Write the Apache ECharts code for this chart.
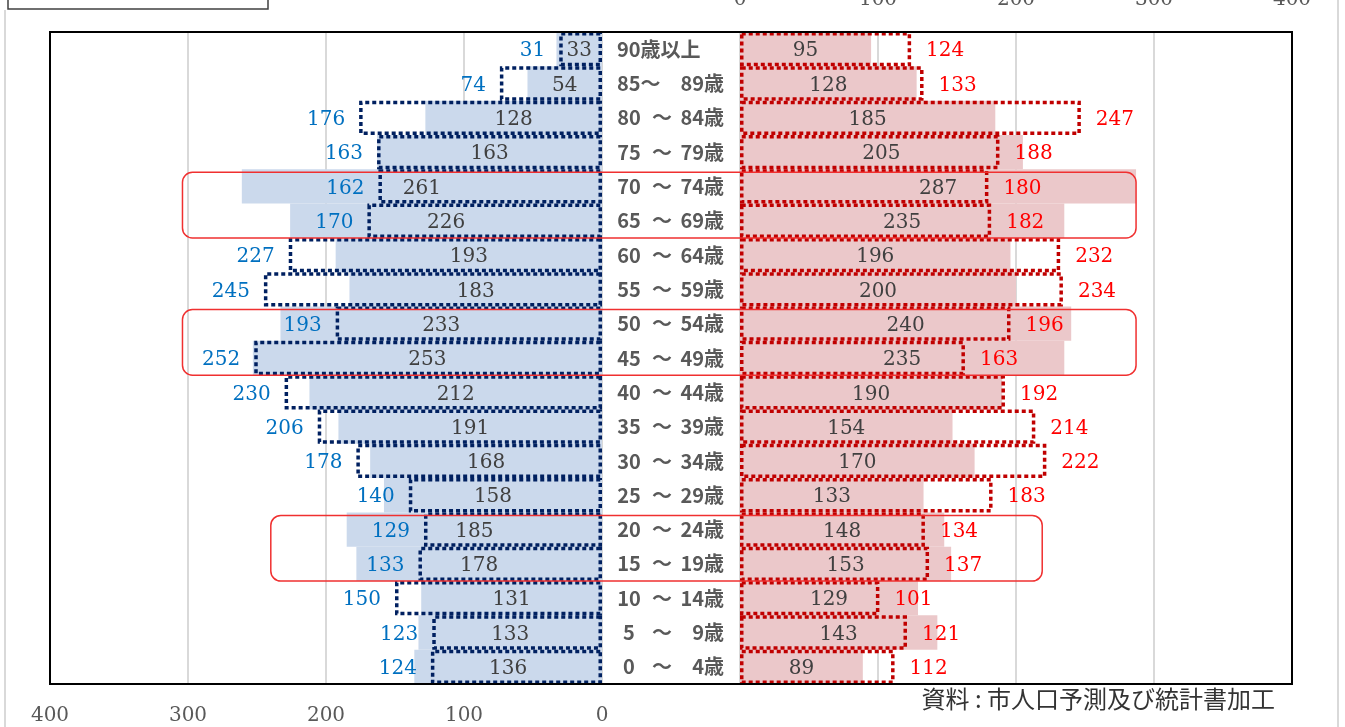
<!DOCTYPE html>
<html><head><meta charset="utf-8">
<script src="https://cdn.jsdelivr.net/npm/echarts@6/dist/echarts.min.js"></script>
<style>html,body{margin:0;padding:0;background:#fff;}#c{width:1345px;height:727px;}</style>
</head><body><div id="c"></div>
<script>
const categories = ['90歳以上','85～ 89歳','80 ～ 84歳','75 ～ 79歳','70 ～ 74歳','65 ～ 69歳','60 ～ 64歳','55 ～ 59歳','50 ～ 54歳','45 ～ 49歳','40 ～ 44歳','35 ～ 39歳','30 ～ 34歳','25 ～ 29歳','20 ～ 24歳','15 ～ 19歳','10 ～ 14歳','5 ～ 9歳','0 ～ 4歳'];
const maleFilled   = [33,54,128,163,261,226,193,183,233,253,212,191,168,158,185,178,131,133,136];
const maleDotted   = [31,74,176,163,162,170,227,245,193,252,230,206,178,140,129,133,150,123,124];
const femaleFilled = [95,128,185,205,287,235,196,200,240,235,190,154,170,133,148,153,129,143,89];
const femaleDotted = [124,133,247,188,180,182,232,234,196,163,192,214,222,183,134,137,101,121,112];
const axisTicks = [0,100,200,300,400];
// highlighted row pairs: [firstRow, lastRow, leftExtentValue, rightExtentValue]
const highlights = [[4,5,304,287],[8,9,304,287],[14,15,240,219]];

const chart = echarts.init(document.getElementById('c'));
const numFont = 'DejaVu Serif';
const gridTop = 32, gridBottom = 43;
const valAxis = (gi, pos, inverse) => ({
  type:'value', gridIndex:gi, min:axisTicks[0], max:axisTicks[axisTicks.length-1], interval:axisTicks[1]-axisTicks[0], position:pos, inverse:inverse,
  axisLine:{show:false}, axisTick:{show:false},
  axisLabel:{fontFamily:numFont, fontSize:20, color:'#595959', margin:22},
  splitLine:{show:true, lineStyle:{color:'#D9D9D9', width:2}}
});
const catFont = {fontFamily:'Noto Sans CJK JP', fontWeight:'bold', fontSize:20, color:'#595959'};
const catAxis = (gi, pos, showLabel) => ({
  type:'category', gridIndex:gi, data:categories, inverse:true, position:pos,
  axisLine:{show:false}, axisTick:{show:false}, splitLine:{show:false},
  axisLabel:Object.assign({show:showLabel, margin:123, align:'left',
    formatter: v => {
      const i = v.indexOf('～');
      if (i < 0) return '{p|' + v + '}';
      const lo = v.slice(0, i).trim(), hi = v.slice(i + 1).trim();
      if (v[i - 1] !== ' ') return '{c|' + lo + '～}{b|' + hi + '}';
      return '{a|' + lo + '}{t|～}{b|' + hi + '}';
    },
    rich:{
      p:Object.assign({}, catFont),
      a:Object.assign({width:24, align:'right'}, catFont),
      t:Object.assign({width:42, align:'center'}, catFont),
      c:Object.assign({width:66, align:'left'}, catFont),
      b:Object.assign({width:41, align:'right'}, catFont)
    }}, catFont)
});
const filledLabel = {show:true, position:'inside', offset:[0,2], fontFamily:numFont, fontSize:20, color:'#404040'};
chart.setOption({
  animation:false,
  grid:[
    {left:50, width:552, top:gridTop, bottom:gridBottom, outerBoundsMode:'none', containLabel:false},
    {left:740, width:552, top:gridTop, bottom:gridBottom, outerBoundsMode:'none', containLabel:false}
  ],
  xAxis:[valAxis(0,'bottom',true), valAxis(1,'top',false)],
  yAxis:[catAxis(0,'right',false), catAxis(1,'left',true)],
  series:[
    {type:'bar', xAxisIndex:0, yAxisIndex:0, data:maleFilled, barCategoryGap:0, barGap:'-100%', z:2,
     itemStyle:{color:'#CBD9EC'}, label:filledLabel},
    {type:'bar', xAxisIndex:0, yAxisIndex:0, data:maleDotted, barCategoryGap:0, barGap:'-100%', z:3,
     itemStyle:{color:'rgba(0,0,0,0)', borderColor:'#002060', borderWidth:3.5, borderType:[4,3]},
     label:{show:true, position:'left', distance:14, offset:[0,2], fontFamily:numFont, fontSize:20, color:'#0070C0'}},
    {type:'bar', xAxisIndex:1, yAxisIndex:1, data:femaleFilled, barCategoryGap:0, barGap:'-100%', z:2,
     itemStyle:{color:'#EBC8CA'}, label:filledLabel},
    {type:'bar', xAxisIndex:1, yAxisIndex:1, data:femaleDotted, barCategoryGap:0, barGap:'-100%', z:3,
     itemStyle:{color:'rgba(0,0,0,0)', borderColor:'#C00000', borderWidth:3.5, borderType:[4,3]},
     label:{show:true, position:'right', distance:15, offset:[0,2], fontFamily:numFont, fontSize:20, color:'#FF0000'}}
  ]
});

const bandH = (727 - gridTop - gridBottom) / categories.length;
const gfx = [
  {type:'rect', shape:{x:50, y:gridTop, width:1242, height:727-gridTop-gridBottom}, style:{fill:'none', stroke:'#000', lineWidth:2}, z:10},
  {type:'rect', shape:{x:8, y:-10, width:260, height:19}, style:{fill:'#fff', stroke:'#404040', lineWidth:1.5}, z:10},
  {type:'line', shape:{x1:5, y1:10, x2:5, y2:727}, style:{stroke:'#D9D9D9', lineWidth:2}, z:1},
  {type:'line', shape:{x1:1338, y1:0, x2:1338, y2:727}, style:{stroke:'#D9D9D9', lineWidth:2}, z:1},
  {type:'text', right:70, top:687, style:{text:'資料 : 市人口予測及び統計書加工', fontFamily:'Noto Sans CJK JP', fontSize:24, fill:'#333'}, z:10}
];
highlights.forEach(h => {
  const pL = chart.convertToPixel({xAxisIndex:0, yAxisIndex:0}, [h[2], h[0]]);
  const pR = chart.convertToPixel({xAxisIndex:1, yAxisIndex:1}, [h[3], h[1]]);
  const y0 = pL[1] - bandH/2 + 3, y1 = pR[1] + bandH/2;
  gfx.push({type:'rect', shape:{x:pL[0], y:y0, width:pR[0]-pL[0], height:y1-y0, r:10},
    style:{fill:'none', stroke:'#F03030', lineWidth:1.5}, z:20});
});
chart.setOption({graphic:gfx});
</script></body></html>
